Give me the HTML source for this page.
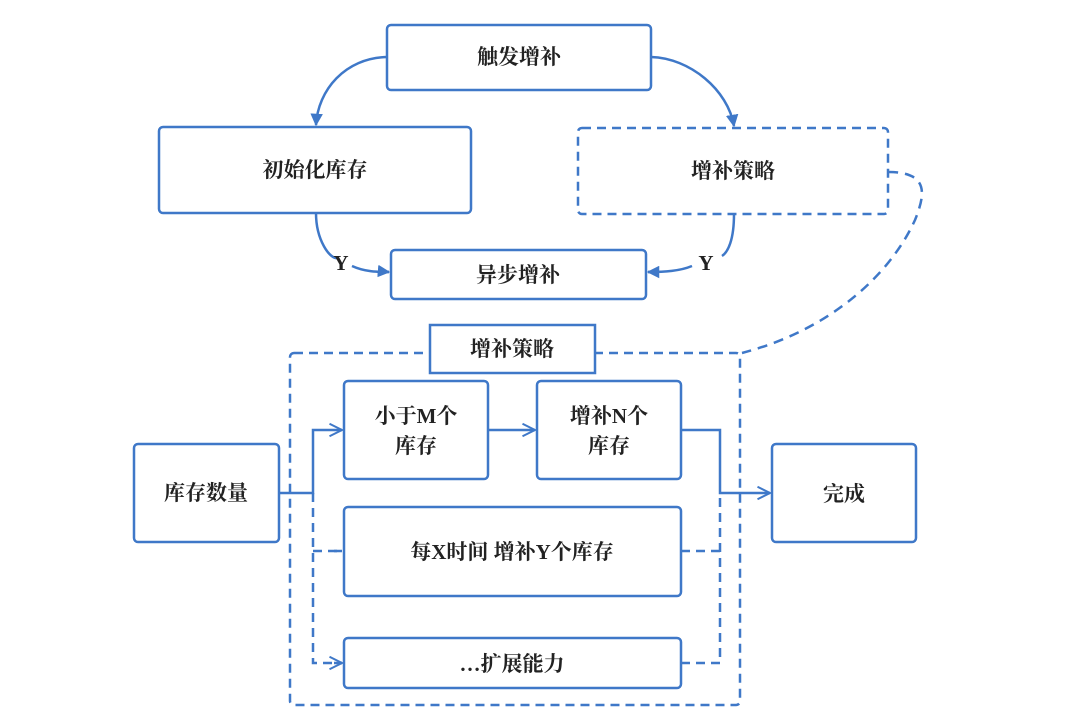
<!DOCTYPE html>
<html><head><meta charset="utf-8"><style>
html,body{margin:0;padding:0;background:#fff;}
svg text{font-family:"Liberation Serif","Noto Serif CJK SC",serif;font-weight:bold;font-size:21px;fill:#222;text-anchor:middle;dominant-baseline:central;}
</style></head><body>
<svg width="1080" height="723" viewBox="0 0 1080 723" xmlns="http://www.w3.org/2000/svg">
<defs>
<marker id="a" viewBox="0 0 10 10" refX="9" refY="5" markerWidth="5" markerHeight="5" orient="auto"><path d="M0,0 L10,5 L0,10 Z" fill="#3f78c8"/></marker>
<marker id="o" viewBox="0 0 12 12" refX="11" refY="6" markerWidth="6" markerHeight="6" orient="auto"><path d="M1,1 L11,6 L1,11" fill="none" stroke="#3f78c8" stroke-width="1.6"/></marker>
</defs>
<g fill="none" stroke="#3f78c8" stroke-width="2.5">
<rect x="387" y="25" width="264" height="65" rx="4"/>
<rect x="159" y="127" width="312" height="86" rx="4"/>
<rect x="578" y="128" width="310" height="86" rx="4" stroke-dasharray="9,6"/>
<rect x="391" y="250" width="255" height="49" rx="4"/>
<path d="M387,57 C345,58 318,90 316,125" marker-end="url(#a)"/>
<path d="M651,57 C690,58 728,90 734,126" marker-end="url(#a)"/>
<path d="M316,213 C316,240 330,260 338,258 M352,266 C365,272 378,272 389,272" />
<path d="M378,271 L389,272" marker-end="url(#a)"/>
<path d="M734,214 C734,240 728,252 722,256 M692,266 C680,271 665,272 648,272"/>
<path d="M656,272 L648,272" marker-end="url(#a)"/>
<path d="M888,172 C930,172 925,195 915,220 C890,275 830,330 742,353" stroke-dasharray="10,7"/>
<rect x="290" y="353" width="450" height="352" rx="4" stroke-dasharray="9,6"/>
<rect x="430" y="325" width="165" height="48" fill="#fff"/>
<rect x="134" y="444" width="145" height="98" rx="4"/>
<rect x="344" y="381" width="144" height="98" rx="4"/>
<rect x="537" y="381" width="144" height="98" rx="4"/>
<rect x="344" y="507" width="337" height="89" rx="4"/>
<rect x="344" y="638" width="337" height="50" rx="4"/>
<rect x="772" y="444" width="144" height="98" rx="4"/>
<path d="M279,493 L313,493 L313,430 L342,430" marker-end="url(#o)"/>
<path d="M488,430 L535,430" marker-end="url(#o)"/>
<path d="M313,493 L313,663 L342,663 M313,551 L342,551" stroke-dasharray="9,6"/>
<path d="M334,551 L342,551 M334,663 L342,663" marker-end="url(#o)"/>
<path d="M681,430 L720,430 L720,493 L770,493" marker-end="url(#o)"/>
<path d="M681,551 L720,551 M681,663 L720,663 L720,493" stroke-dasharray="9,6"/>
</g>
<text x="519" y="57">触发增补</text>
<text x="315" y="170">初始化库存</text>
<text x="733" y="171">增补策略</text>
<text x="518" y="275">异步增补</text>
<text x="341" y="263">Y</text>
<text x="706" y="263">Y</text>
<text x="512" y="349">增补策略</text>
<text x="416" y="416">小于M个</text>
<text x="416" y="446">库存</text>
<text x="609" y="416">增补N个</text>
<text x="609" y="446">库存</text>
<text x="206" y="493">库存数量</text>
<text x="512" y="552">每X时间 增补Y个库存</text>
<text x="512" y="664">…扩展能力</text>
<text x="844" y="494">完成</text>
</svg>
</body></html>
